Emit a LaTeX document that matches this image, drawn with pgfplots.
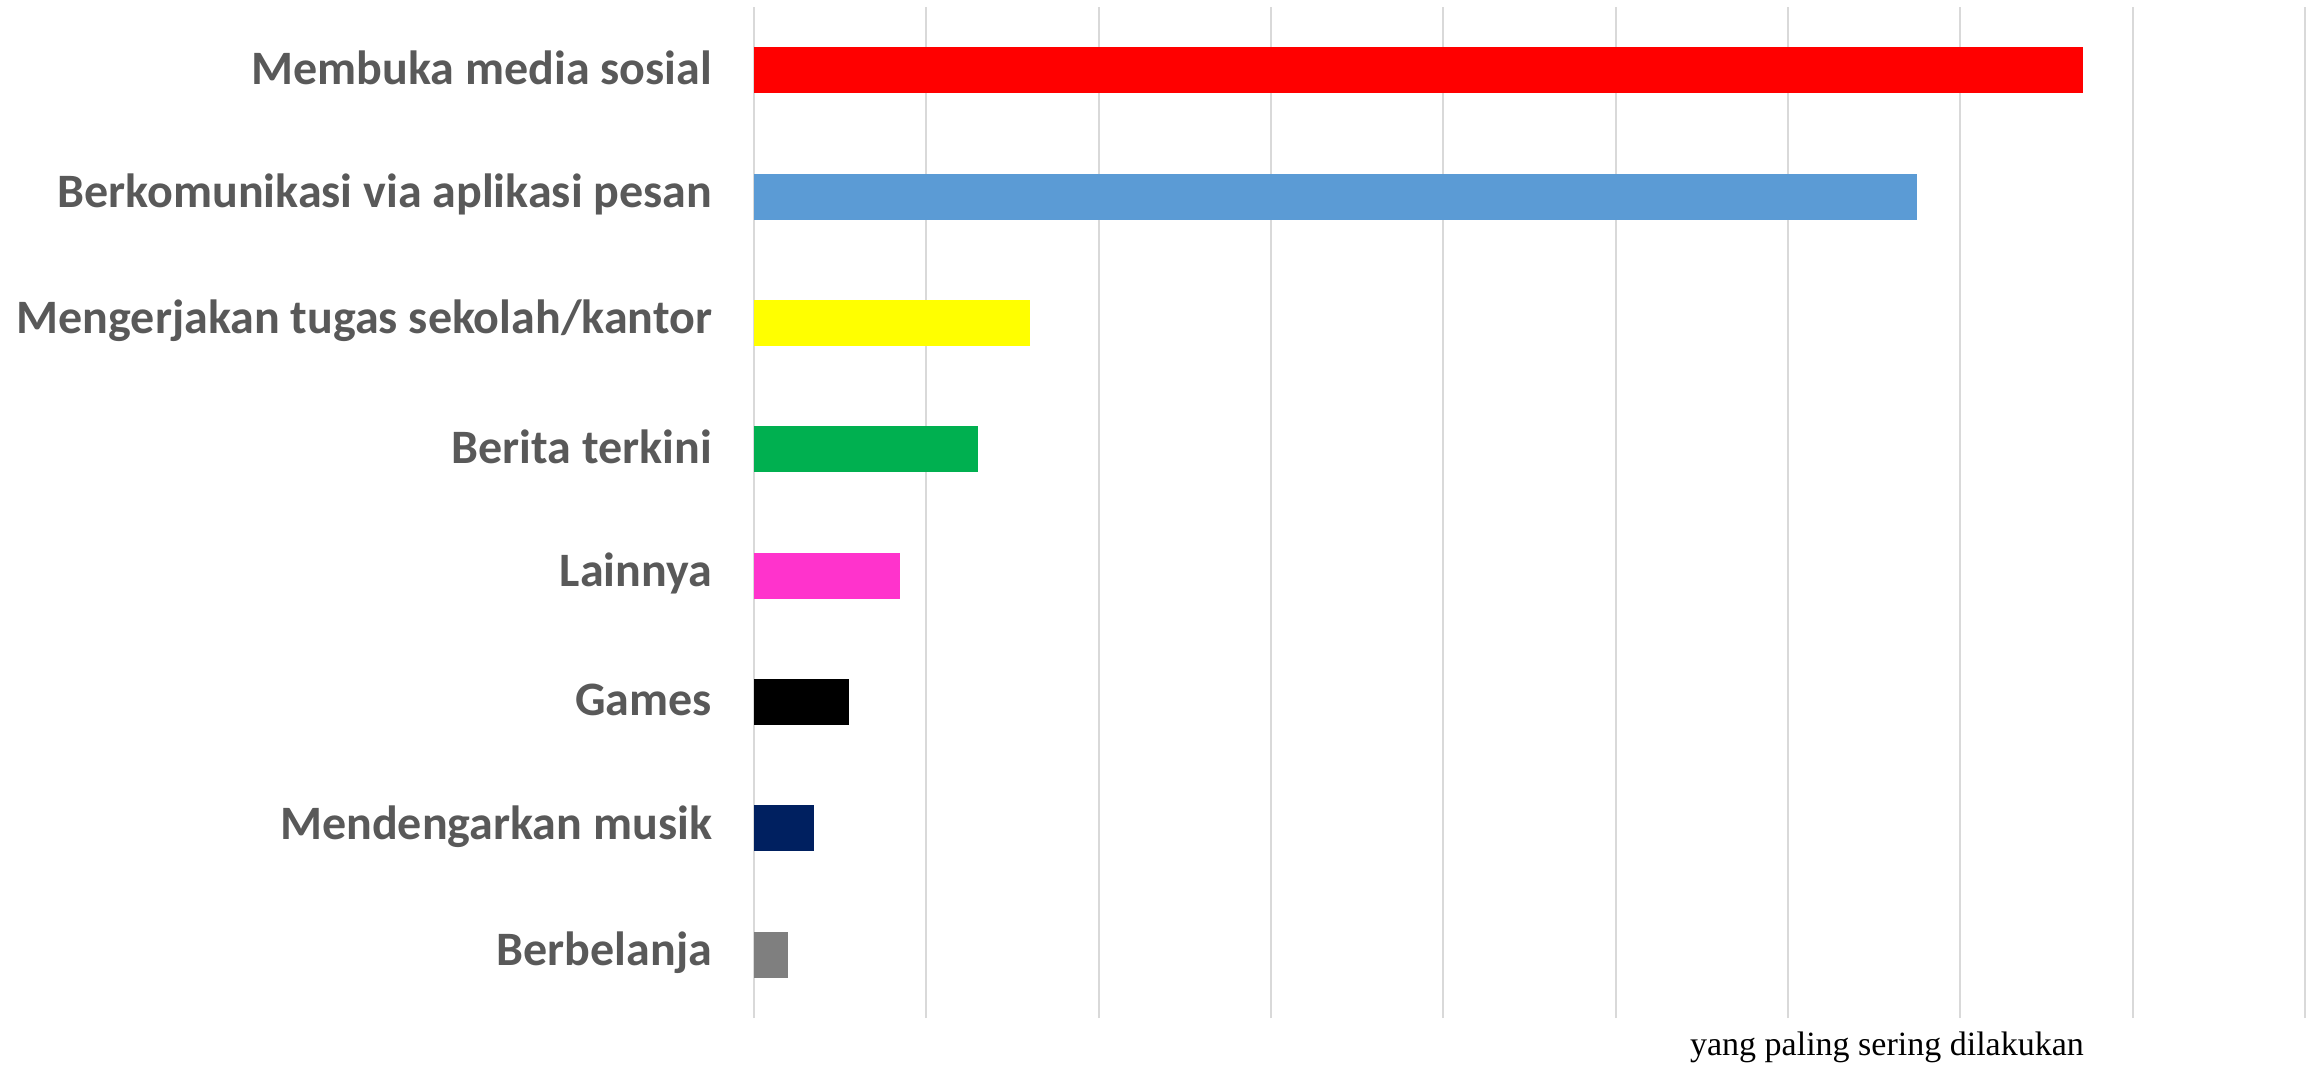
\documentclass[border=0pt]{standalone}
\usepackage{pgfplots}
\pgfplotsset{compat=1.18}
\usepackage{fontspec}
\setmainfont{Carlito}
\newfontfamily\serifnote{Liberation Serif}

\definecolor{labelgray}{RGB}{89,89,89}
\definecolor{gridgray}{RGB}{217,217,217}
\definecolor{barred}{RGB}{255,0,0}
\definecolor{barblue}{RGB}{91,155,213}
\definecolor{baryellow}{RGB}{255,255,0}
\definecolor{bargreen}{RGB}{0,176,80}
\definecolor{barpink}{RGB}{255,51,204}
\definecolor{barblack}{RGB}{0,0,0}
\definecolor{barnavy}{RGB}{0,32,96}
\definecolor{bargray}{RGB}{127,127,127}

\begin{document}
\begin{tikzpicture}
\useasboundingbox (-377pt,-24pt) rectangle (782pt,509pt);
\begin{axis}[
  at={(0,0)}, anchor=south west,
  scale only axis,
  width=775.5pt, height=505.5pt,
  xbar, bar width=23pt, bar shift=0pt,
  xmin=0, xmax=9,
  ymin=-0.5, ymax=7.5,
  xtick={0,1,...,9}, xticklabels={},
  xmajorgrids, major grid style={gridgray, line width=1pt},
  axis line style={draw=none},
  tick style={draw=none},
  ytick={0,1,...,7},
  yticklabels={Berbelanja, Mendengarkan musik, Games, Lainnya, Berita terkini,
    Mengerjakan tugas sekolah/kantor, Berkomunikasi via aplikasi pesan, Membuka media sosial},
  yticklabel style={font=\fontsize{24}{28}\selectfont\bfseries, text=labelgray,
    inner sep=0pt, xshift=-16.5pt, yshift=1pt},
  xlabel={yang paling sering dilakukan},
  xlabel style={at={(rel axis cs:0.7305,0)}, anchor=base, yshift=-18.5pt,
    inner sep=0pt, font=\serifnote\fontsize{17}{20}\selectfont, text=black},
  every axis plot/.append style={draw=none},
]
\addplot[fill=bargray]   coordinates {(0.20,0)};
\addplot[fill=barnavy]   coordinates {(0.35,1)};
\addplot[fill=barblack]  coordinates {(0.55,2)};
\addplot[fill=barpink]   coordinates {(0.85,3)};
\addplot[fill=bargreen]  coordinates {(1.30,4)};
\addplot[fill=baryellow] coordinates {(1.60,5)};
\addplot[fill=barblue]   coordinates {(6.75,6)};
\addplot[fill=barred]    coordinates {(7.71,7)};
\end{axis}
\end{tikzpicture}
\end{document}
